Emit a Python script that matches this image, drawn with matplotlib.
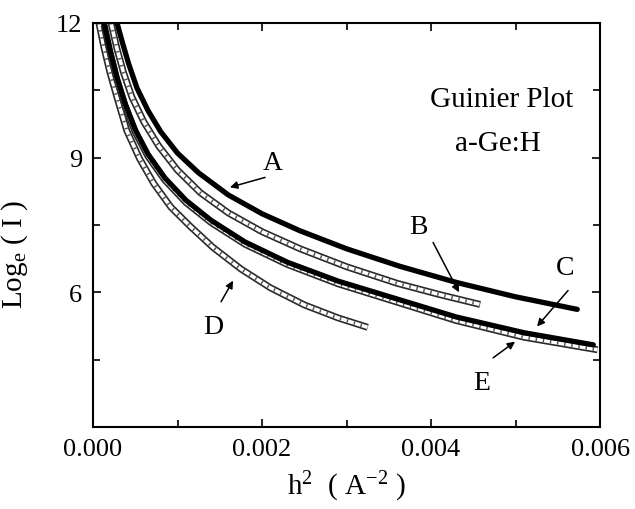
import matplotlib
matplotlib.use("Agg")
import matplotlib.pyplot as plt
import matplotlib.patheffects as pe

plt.rcParams['font.family'] = ['Liberation Serif', 'DejaVu Serif']
plt.rcParams['mathtext.fontset'] = 'custom'
plt.rcParams['mathtext.rm'] = 'Liberation Serif'
plt.rcParams['mathtext.it'] = 'Liberation Serif:italic'

# curve A (thick solid)
a_x = [0.000284, 0.00035, 0.00042, 0.00052, 0.00065, 0.0008, 0.001, 0.00125,
       0.0016, 0.002, 0.00245, 0.003, 0.00363, 0.0043, 0.005, 0.00573]
a_y = [12.0, 11.55, 11.1, 10.55, 10.05, 9.58, 9.1, 8.66,
       8.17, 7.75, 7.37, 6.97, 6.58, 6.22, 5.90, 5.62]

# curve B (open squares)
b_x = [0.000213, 0.00028, 0.00036, 0.00046, 0.0006, 0.00078, 0.001, 0.00127,
       0.0016, 0.002, 0.00245, 0.003, 0.0036, 0.0041, 0.00458]
b_y = [12.0, 11.45, 10.9, 10.35, 9.8, 9.25, 8.72, 8.22,
       7.77, 7.35, 6.97, 6.57, 6.2, 5.95, 5.73]

# curve C (thick solid)
c_x = [0.00013, 0.0002, 0.00028, 0.00038, 0.0005, 0.00065, 0.00085, 0.0011,
       0.0014, 0.0018, 0.0023, 0.0029, 0.0036, 0.0043, 0.0051, 0.00592]
c_y = [12.0, 11.4, 10.8, 10.2, 9.62, 9.08, 8.55, 8.05,
       7.6, 7.12, 6.67, 6.25, 5.85, 5.45, 5.1, 4.83]

# curve E (open circles, just under C)
e_x = [0.00013, 0.0002, 0.00028, 0.00038, 0.0005, 0.00065, 0.00085, 0.0011,
       0.0014, 0.0018, 0.0023, 0.0029, 0.0036, 0.0043, 0.0051, 0.00597]
e_y = [11.95, 11.35, 10.75, 10.15, 9.57, 9.03, 8.5, 8.0,
       7.55, 7.07, 6.62, 6.19, 5.78, 5.37, 5.0, 4.72]

# curve D (open squares)
d_x = [0.00007, 0.00013, 0.0002, 0.00029, 0.0004, 0.00055, 0.00072, 0.00092,
       0.00115, 0.00142, 0.00175, 0.0021, 0.0025, 0.0029, 0.00325]
d_y = [12.0, 11.45, 10.9, 10.3, 9.6, 8.98, 8.42, 7.9,
       7.47, 7.0, 6.52, 6.1, 5.72, 5.43, 5.22]

fig = plt.figure(figsize=(6.35, 5.1), dpi=100)
ax = fig.add_axes([0.1465, 0.1608, 0.7985, 0.7922])

hollow = [pe.Stroke(linewidth=5, foreground='#2a2a2a'), pe.Normal()]


def chain(x, y):
    # hollow marker chain look
    ax.plot(x, y, color='white', lw=2.6, path_effects=hollow, solid_capstyle='butt')
    ax.plot(x, y, color='#555555', lw=2.6, ls=(0, (0.4, 1.6)), solid_capstyle='butt')


chain(d_x, d_y)
chain(b_x, b_y)
chain(e_x, e_y)
ax.plot(c_x, c_y, color='black', lw=3.8, solid_capstyle='round')
ax.plot(a_x, a_y, color='black', lw=3.8, solid_capstyle='round')

ax.set_xlim(0, 0.006)
ax.set_ylim(3, 12)
ax.set_xticks([0.0, 0.002, 0.004, 0.006])
ax.set_xticklabels(['0.000', '0.002', '0.004', '0.006'])
ax.set_xticks([0.001, 0.003, 0.005], minor=True)
ax.set_yticks([6, 9, 12])
ax.set_yticks([4.5, 7.5, 10.5], minor=True)
ax.tick_params(which='both', direction='in', top=True, right=True, labelsize=19, width=1.2)
ax.tick_params(which='major', length=6, pad=8)
ax.tick_params(which='minor', length=5)
for s in ax.spines.values():
    s.set_linewidth(1.5)

ax.set_xlabel('h$^2$  ( A$^{-2}$ )', fontsize=21, labelpad=6)
ax.set_ylabel('Log$_\\mathrm{e}$ ( I )', fontsize=21)
ax.yaxis.set_label_coords(-0.124, 0.43)

ax.text(0.00484, 10.30, 'Guinier Plot', fontsize=21, ha='center', va='center')
ax.text(0.00479, 9.32, 'a-Ge:H', fontsize=21, ha='center', va='center')

arrow = dict(arrowstyle='-|>', color='black', lw=1.1, mutation_scale=11, shrinkA=0, shrinkB=0)
labels = [('A', (0.00213, 8.90), (0.002036, 8.56), (0.00162, 8.34)),
          ('B', (0.003846, 7.47), (0.004024, 7.11), (0.004331, 6.0)),
          ('C', (0.005586, 6.55), (0.005621, 6.04), (0.005254, 5.24)),
          ('E', (0.004604, 3.99), (0.004734, 4.54), (0.004994, 4.90)),
          ('D', (0.00142, 5.24), (0.001515, 5.79), (0.001657, 6.26))]
for name, pos, start, tip in labels:
    ax.text(pos[0], pos[1], name, fontsize=20, ha='center', va='center')
    ax.annotate('', xy=tip, xytext=start, arrowprops=arrow)

fig.savefig('out.png', dpi=100)
